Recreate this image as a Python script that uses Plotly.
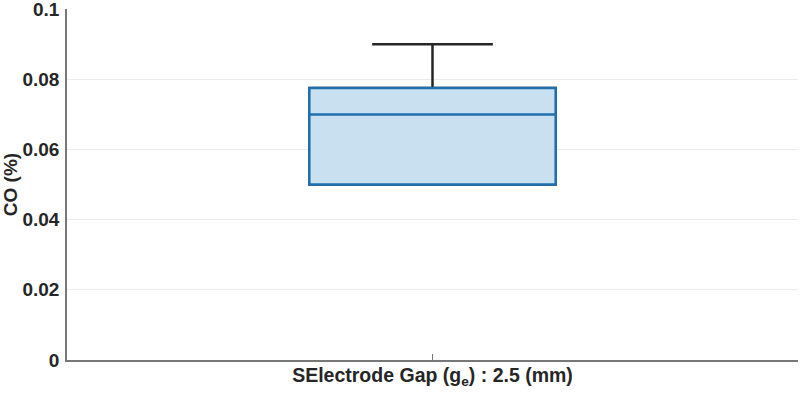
import plotly.graph_objects as go

categories = ["2.5"]
q1 = [0.05]
median = [0.07]
q3 = [0.0775]
lower_fence = [0.05]
upper_fence = [0.09]
y_ticks = [0, 0.02, 0.04, 0.06, 0.08, 0.1]
y_tick_labels = ["0", "0.02", "0.04", "0.06", "0.08", "0.1"]
x_label = "SElectrode Gap (g<sub>e</sub>) : 2.5 (mm)"
y_label = "CO (%)"

fig = go.Figure()
# whiskers (dark)
fig.add_trace(go.Box(
    x=categories, q1=q1, median=median, q3=q3,
    lowerfence=lower_fence, upperfence=upper_fence,
    width=0.337, whiskerwidth=0.49,
    line=dict(color="#262626", width=2.5),
    fillcolor="rgba(0,0,0,0)", boxpoints=False, hoverinfo="skip",
))
# box (blue)
fig.add_trace(go.Box(
    x=categories, q1=q1, median=median, q3=q3,
    lowerfence=q1, upperfence=q3,
    width=0.337, whiskerwidth=0,
    line=dict(color="#2070b0", width=2.5),
    fillcolor="rgba(200,224,240,1)", boxpoints=False,
))

fig.update_layout(
    width=800, height=393,
    margin=dict(l=67, r=2, t=9, b=33),
    paper_bgcolor="white", plot_bgcolor="white",
    showlegend=False,
    font=dict(family="Liberation Sans, Arial", size=18, color="#262626"),
    xaxis=dict(
        type="category", range=[-0.5, 0.5], automargin=False,
        showticklabels=False, ticks="inside", ticklen=6, tickcolor="#777",
        showline=True, linecolor="#777", linewidth=1.5,
        showgrid=False, zeroline=False,
        title=dict(text="<b>" + x_label + "</b>", standoff=8,
                   font=dict(size=19.5, color="#262626")),
    ),
    yaxis=dict(
        range=[0, 0.10005], tickvals=y_ticks, ticktext=["<b>%s</b>" % t for t in y_tick_labels],
        tickfont=dict(size=19, color="#262626"), ticklabelstandoff=2,
        ticklabeloverflow="allow", automargin=False,
        showline=True, linecolor="#777", linewidth=1.5,
        ticks="", showgrid=True, gridcolor="#ebebeb", gridwidth=1,
        zeroline=False,
        title=dict(text="<b>" + y_label + "</b>", standoff=2,
                   font=dict(size=19, color="#262626")),
    ),
)

fig.write_html("out.html")
